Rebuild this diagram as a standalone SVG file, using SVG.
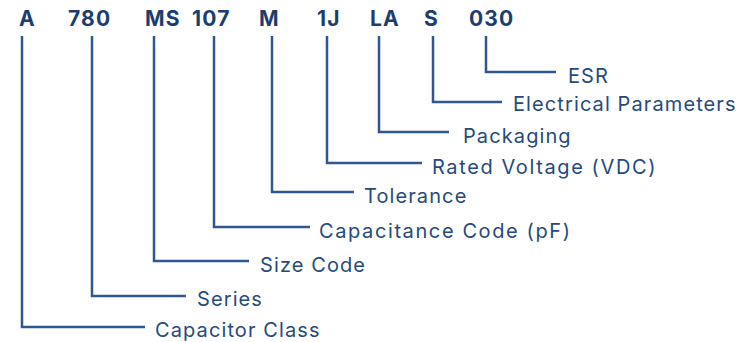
<svg xmlns="http://www.w3.org/2000/svg" width="741" height="342" viewBox="0 0 741 342">
<style>
.code{font-family:Inter,"Open Sans","Liberation Sans",sans-serif;font-weight:700;font-size:21px;letter-spacing:1.2px;fill:#1b3e6f}
.lbl{font-family:Inter,"Open Sans","Liberation Sans",sans-serif;font-size:20px;letter-spacing:1.1px;fill:#254a7c}
.wide{letter-spacing:1.6px}
.ln{fill:none;stroke:#2f5891;stroke-width:2.5}
</style>
<rect width="741" height="342" fill="#ffffff"/>
<g id="header">
<text class="code" x="19" y="26">A</text>
<text class="code" x="68" y="26">780</text>
<text class="code" x="145" y="26">MS</text>
<text class="code" x="192" y="26">107</text>
<text class="code" x="259" y="26">M</text>
<text class="code" x="317" y="26">1J</text>
<text class="code" x="370" y="26">LA</text>
<text class="code" x="424" y="26">S</text>
<text class="code" x="469" y="26">030</text>
</g>
<g id="connectors">
<polyline class="ln" points="22,36 22,327 145,327"/>
<polyline class="ln" points="92,36 92,296 186,296"/>
<polyline class="ln" points="154,36 154,261 249,261"/>
<polyline class="ln" points="214,36 214,227 310,227"/>
<polyline class="ln" points="272,36 272,192 354,192"/>
<polyline class="ln" points="327,36 327,163 422,163"/>
<polyline class="ln" points="379,36 379,132 449,132"/>
<polyline class="ln" points="433,36 433,102 502,102"/>
<polyline class="ln" points="486,36 486,72 556,72"/>
</g>
<g id="label-class"><text class="lbl" x="155" y="337">Capacitor Class</text></g>
<g id="label-series"><text class="lbl" x="197" y="306">Series</text></g>
<g id="label-size"><text class="lbl" x="260" y="272">Size Code</text></g>
<g id="label-cap"><text class="lbl wide" x="319" y="238">Capacitance Code (pF)</text></g>
<g id="label-tol"><text class="lbl" x="364" y="203">Tolerance</text></g>
<g id="label-volt"><text class="lbl wide" x="432" y="174">Rated Voltage (VDC)</text></g>
<g id="label-pack"><text class="lbl" x="463" y="143">Packaging</text></g>
<g id="label-elec"><text class="lbl" x="513" y="111">Electrical Parameters</text></g>
<g id="label-esr"><text class="lbl" x="568" y="83">ESR</text></g>
</svg>
